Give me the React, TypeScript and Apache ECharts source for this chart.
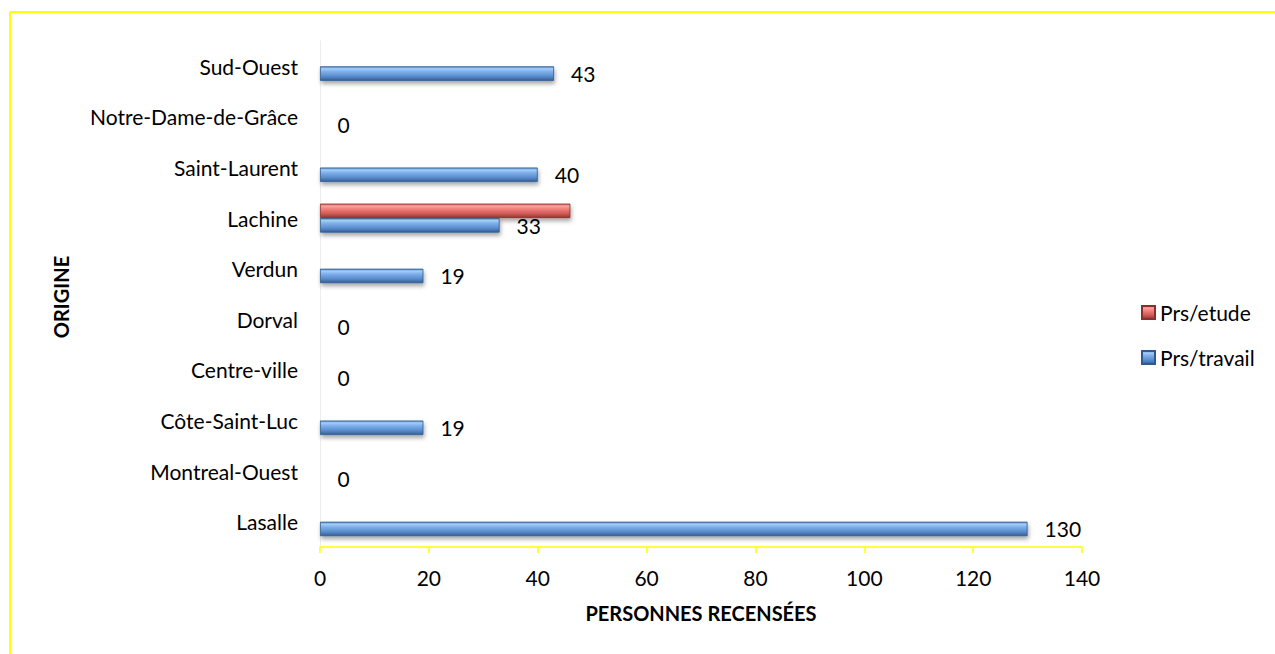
import React, { useEffect, useRef } from "react";
import * as echarts from "echarts";

const categories = [
  "Lasalle",
  "Montreal-Ouest",
  "Côte-Saint-Luc",
  "Centre-ville",
  "Dorval",
  "Verdun",
  "Lachine",
  "Saint-Laurent",
  "Notre-Dame-de-Grâce",
  "Sud-Ouest",
];
const travail = [130, 0, 19, 0, 0, 19, 33, 40, 0, 43];
const etude = [0, 0, 0, 0, 0, 0, 46, 0, 0, 0];
const xTicks = { min: 0, max: 140, interval: 20 };

const FONT = "Lato";

const blueGrad = new echarts.graphic.LinearGradient(0, 0, 0, 1, [
  { offset: 0, color: "#5a8ccd" },
  { offset: 0.15, color: "#a6cdf6" },
  { offset: 0.35, color: "#7eb0ec" },
  { offset: 0.7, color: "#5a8ccc" },
  { offset: 1, color: "#365f96" },
]);
const redGrad = new echarts.graphic.LinearGradient(0, 0, 0, 1, [
  { offset: 0, color: "#d9605c" },
  { offset: 0.15, color: "#fca3a0" },
  { offset: 0.35, color: "#f0817d" },
  { offset: 0.7, color: "#cf5a56" },
  { offset: 1, color: "#8f3532" },
]);

export default function App() {
  const ref = useRef<HTMLDivElement>(null);
  useEffect(() => {
    if (!ref.current) return;
    const chart = echarts.init(ref.current, null, { renderer: "svg" });
    chart.setOption({
      animation: false,
      textStyle: { fontFamily: FONT },
      graphic: [
        {
          type: "line",
          shape: { x1: 10, y1: 12, x2: 10, y2: 660 },
          style: { stroke: "#ffff00", lineWidth: 2 },
        },
        {
          type: "line",
          shape: { x1: 10, y1: 12, x2: 1280, y2: 12 },
          style: { stroke: "#ffff00", lineWidth: 2 },
        },
      ],
      grid: { left: 320, right: 1275 - 1082, top: 41, bottom: 654 - 547, containLabel: false },
      legend: {
        orient: "vertical",
        left: 1136,
        top: 297,
        itemWidth: 13,
        itemHeight: 13,
        itemGap: 24,
        icon: "rect",
        data: ["Prs/etude", "Prs/travail"],
        textStyle: { fontFamily: FONT, fontSize: 21, color: "#000" },
      },
      xAxis: {
        type: "value",
        min: xTicks.min,
        max: xTicks.max,
        interval: xTicks.interval,
        splitLine: { show: false },
        axisLine: { show: true, lineStyle: { color: "#ffff00", width: 1.5 } },
        axisTick: { show: true, length: 6, lineStyle: { color: "#ffff00", width: 1.5 } },
        axisLabel: { color: "#000", fontSize: 21, fontFamily: FONT, margin: 20 },
        name: "PERSONNES RECENSÉES",
        nameLocation: "middle",
        nameGap: 56,
        nameTextStyle: { fontFamily: FONT, fontSize: 20, fontWeight: "bold", color: "#000" },
      },
      yAxis: {
        type: "category",
        data: categories,
        axisLine: { show: true, lineStyle: { color: "#ececec", width: 1 } },
        axisTick: { show: false },
        axisLabel: {
          color: "#000",
          fontSize: 21,
          fontFamily: FONT,
          margin: 22,
          padding: [0, 0, 4, 0],
        },
        name: "ORIGINE",
        nameLocation: "middle",
        nameGap: 249,
        nameRotate: 90,
        nameTextStyle: {
          fontFamily: FONT,
          fontSize: 20,
          fontWeight: "bold",
          color: "#000",
          padding: [0, 6, 0, 0],
        },
      },
      series: [
        {
          name: "Prs/etude",
          type: "bar",
          data: etude,
          barWidth: 14.5,
          barGap: "0%",
          itemStyle: {
            color: redGrad,
            borderColor: "#8a2f2c",
            borderWidth: 0.8,
            shadowBlur: 4,
            shadowOffsetY: 3,
            shadowOffsetX: 1,
            shadowColor: "rgba(0,0,0,0.35)",
          },
          label: { show: false },
        },
        {
          name: "Prs/travail",
          type: "bar",
          data: travail,
          barWidth: 14.5,
          barGap: "0%",
          itemStyle: {
            color: blueGrad,
            borderColor: "#2f5a8f",
            borderWidth: 0.8,
            shadowBlur: 4,
            shadowOffsetY: 3,
            shadowOffsetX: 1,
            shadowColor: "rgba(0,0,0,0.35)",
          },
          label: {
            show: true,
            position: "right",
            distance: 17,
            color: "#000",
            fontSize: 21,
            fontFamily: FONT,
            padding: [0, 0, 3, 0],
          },
        },
      ],
    });
    return () => chart.dispose();
  }, []);
  return (
    <div
      ref={ref}
      style={{ position: "absolute", left: 0, top: 0, width: 1275, height: 654, background: "#fff" }}
    />
  );
}
